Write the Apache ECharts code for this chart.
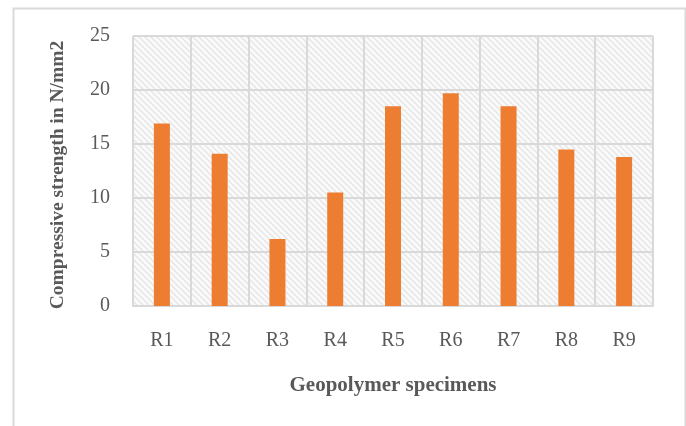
<!DOCTYPE html>
<html>
<head>
<meta charset="utf-8">
<script src="https://cdn.jsdelivr.net/npm/echarts@6/dist/echarts.min.js"></script>
<style>
  html, body { margin: 0; padding: 0; background: #ffffff; }
  #chart { width: 686px; height: 426px; }
</style>
</head>
<body>
<div id="chart"></div>
<script>
// Specimen labels and measured compressive strengths (N/mm2)
const specimens = ['R1', 'R2', 'R3', 'R4', 'R5', 'R6', 'R7', 'R8', 'R9'];
const strength = [16.9, 14.1, 6.2, 10.5, 18.5, 19.7, 18.5, 14.5, 13.8];
const yTicks = { min: 0, max: 25, interval: 5 };

// Light diagonal hatch used as the plot-area fill
function hatchPattern() {
  const size = 6;
  const c = document.createElement('canvas');
  c.width = size; c.height = size;
  const g = c.getContext('2d');
  g.fillStyle = '#fafafa';
  g.fillRect(0, 0, size, size);
  g.strokeStyle = '#e6e6e6';
  g.lineWidth = 1.5;
  g.beginPath();
  g.moveTo(-1, -1); g.lineTo(size + 1, size + 1);
  g.moveTo(-1, size - 1); g.lineTo(1, size + 1);
  g.moveTo(size - 1, -1); g.lineTo(size + 1, 1);
  g.stroke();
  return { image: c, repeat: 'repeat' };
}

const font = '"Liberation Serif", "Times New Roman", serif';
const chart = echarts.init(document.getElementById('chart'), null, { renderer: 'canvas' });

chart.setOption({
  animation: false,
  backgroundColor: '#ffffff',
  textStyle: { fontFamily: font },
  graphic: [{
    type: 'rect',
    left: 11, top: 6,
    shape: { width: 672, height: 440 },
    style: { fill: 'none', stroke: '#d9d9d9', lineWidth: 2 },
    z: -10
  }],
  grid: {
    left: 133, right: 33, top: 36, bottom: 120,
    show: true,
    backgroundColor: hatchPattern(),
    borderWidth: 0
  },
  xAxis: {
    type: 'category',
    data: specimens,
    name: 'Geopolymer specimens',
    nameLocation: 'middle',
    nameGap: 69,
    nameTextStyle: { fontFamily: font, fontSize: 21, fontWeight: 'bold', color: '#595959' },
    axisLine: { show: true, lineStyle: { color: '#d9d9d9', width: 2 } },
    axisTick: { show: false },
    axisLabel: { margin: 25, fontFamily: font, fontSize: 20, color: '#595959' },
    splitLine: { show: true, lineStyle: { color: '#d9d9d9', width: 2 } }
  },
  yAxis: {
    type: 'value',
    min: yTicks.min, max: yTicks.max, interval: yTicks.interval,
    name: 'Compressive strength in N/mm2',
    nameLocation: 'middle',
    nameGap: 65,
    nameTextStyle: {
      fontFamily: font, fontSize: 19.5, fontWeight: 'bold', color: '#595959',
      padding: [0, 8, 0, 0]
    },
    axisLine: { show: false },
    axisTick: { show: false },
    axisLabel: { margin: 23, fontFamily: font, fontSize: 20, color: '#595959' },
    splitLine: { show: true, lineStyle: { color: '#d9d9d9', width: 2 } }
  },
  series: [{
    type: 'bar',
    data: strength,
    barWidth: 16,
    itemStyle: { color: '#ed7d31' }
  }]
});
</script>
</body>
</html>
